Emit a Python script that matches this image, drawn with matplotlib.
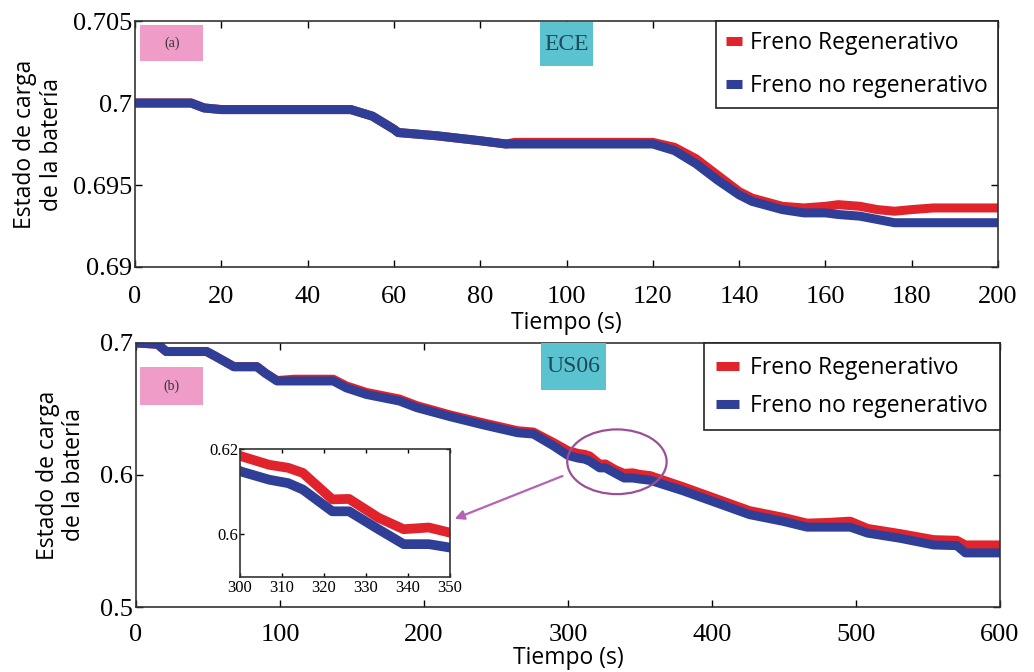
import numpy as np
import matplotlib.pyplot as plt
from matplotlib.patches import Ellipse, Rectangle

# ECE cycle (panel a)
t_ece = [0, 13, 16, 20, 50, 55, 60, 61, 70, 80, 86, 88, 100, 120, 125, 130, 135, 140,
         143, 150, 155, 160, 163, 168, 172, 176, 180, 185, 200]
soc_ece_regen = [0.7000, 0.7000, 0.6997, 0.6996, 0.6996, 0.6992, 0.6984, 0.6982, 0.6980,
                 0.6977, 0.6975, 0.6976, 0.6976, 0.6976, 0.6973, 0.6966, 0.6956, 0.6946,
                 0.6942, 0.6937, 0.6936, 0.6937, 0.6938, 0.6937, 0.6935, 0.6934, 0.6935,
                 0.6936, 0.6936]
soc_ece_noregen = [0.7000, 0.7000, 0.6997, 0.6996, 0.6996, 0.6992, 0.6984, 0.6982, 0.6980,
                   0.6977, 0.6975, 0.6975, 0.6975, 0.6975, 0.6971, 0.6963, 0.6953, 0.6944,
                   0.6940, 0.6935, 0.6933, 0.6933, 0.6932, 0.6931, 0.6929, 0.6927, 0.6927,
                   0.6927, 0.6927]

# US06 cycle (panel b)
t_us06 = [0, 15, 21, 49, 55, 68, 84, 90, 98, 110, 137, 146, 160, 183, 195, 218, 241, 265,
          276, 290, 300, 307, 311.5, 315, 322, 326, 333, 339, 345, 350, 357, 380, 403, 426,
          449, 466, 480, 496, 508, 531, 554, 570, 576, 600]
soc_us06_regen = [0.700, 0.699, 0.6935, 0.6935, 0.690, 0.682, 0.682, 0.677, 0.6715, 0.6725,
                  0.6725, 0.6675, 0.6625, 0.6575, 0.6525, 0.6455, 0.6395, 0.6335, 0.6325,
                  0.6245, 0.6184, 0.6163, 0.6156, 0.6144, 0.6082, 0.6083, 0.6039, 0.6012,
                  0.6016, 0.6004, 0.5995, 0.591, 0.582, 0.573, 0.568, 0.5635, 0.564, 0.565,
                  0.5595, 0.5555, 0.551, 0.5505, 0.547, 0.547]
soc_us06_noregen = [0.700, 0.699, 0.6935, 0.6935, 0.690, 0.682, 0.682, 0.677, 0.6712, 0.6712,
                    0.6712, 0.666, 0.661, 0.656, 0.651, 0.6442, 0.638, 0.632, 0.631, 0.622,
                    0.6148, 0.6128, 0.612, 0.6105, 0.6054, 0.6054, 0.6012, 0.5977, 0.5977,
                    0.5969, 0.5960, 0.588, 0.579, 0.570, 0.565, 0.5605, 0.5605, 0.5605,
                    0.556, 0.552, 0.547, 0.5465, 0.541, 0.541]

labels = ['Freno Regenerativo', 'Freno no regenerativo']
red = '#e1232b'
blue = '#2f3f98'
serif = 'Liberation Serif'
sans = 'Open Sans'


def style_axes(ax, tick_size=19, xpad=9):
    ax.tick_params(direction='in', top=True, right=True, length=5, width=1)
    ax.tick_params(axis='x', pad=xpad)
    ax.tick_params(axis='y', pad=2)
    for lab in ax.get_xticklabels() + ax.get_yticklabels():
        lab.set_fontfamily(serif)
        lab.set_fontsize(tick_size)
    for sp in ax.spines.values():
        sp.set_linewidth(1.2)
        sp.set_color('#333333')


def tag_box(ax, x0, y0, x1, y1, text, fc, tc, family, size):
    ax.add_patch(Rectangle((x0, y0), x1 - x0, y1 - y0, transform=ax.transAxes,
                           facecolor=fc, edgecolor='none', zorder=5))
    ax.text((x0 + x1) / 2, (y0 + y1) / 2, text, transform=ax.transAxes, ha='center',
            va='center', color=tc, family=family, fontsize=size, zorder=6)


fig = plt.figure(figsize=(10.34, 6.72), dpi=100)

# ---- panel (a)
ax1 = fig.add_axes([0.1306, 0.6027, 0.8346, 0.366])
ax1.plot(t_ece, soc_ece_regen, color=red, lw=6.5, solid_capstyle='butt', label=labels[0])
ax1.plot(t_ece, soc_ece_noregen, color=blue, lw=6.5, solid_capstyle='butt', label=labels[1])
ax1.set_xlim(0, 200)
ax1.set_ylim(0.69, 0.705)
ax1.set_xticks(np.arange(0, 201, 20))
ax1.set_yticks([0.69, 0.695, 0.7, 0.705])
ax1.set_yticklabels(['0.69', '0.695', '0.7', '0.705'])
style_axes(ax1, xpad=14)
ax1.set_xlabel('Tiempo (s)', family=sans, fontsize=16.5, labelpad=2)
ax1.set_ylabel('Estado de carga\nde la batería', family=sans, fontsize=16.5, labelpad=6.5,
               linespacing=1.15)
leg1 = ax1.legend(loc='upper right', prop={'family': sans, 'size': 16.5}, fancybox=False,
                  framealpha=1, edgecolor='#222222', handlelength=0.7, borderaxespad=0,
                  handletextpad=0.35, borderpad=0.45, labelspacing=0.8)
leg1.get_frame().set_linewidth(1.2)
tag_box(ax1, 0.006, 0.837, 0.079, 0.984, '(a)', '#ef9dc8', '#333333', serif, 10)
tag_box(ax1, 0.469, 0.817, 0.531, 0.996, 'ECE', '#5bc3cf', '#1d4a5c', serif, 17)

# ---- panel (b)
ax2 = fig.add_axes([0.1315, 0.0967, 0.8356, 0.393])
ax2.plot(t_us06, soc_us06_regen, color=red, lw=6.5, solid_capstyle='butt', label=labels[0])
ax2.plot(t_us06, soc_us06_noregen, color=blue, lw=6.5, solid_capstyle='butt', label=labels[1])
ax2.set_xlim(0, 600)
ax2.set_ylim(0.5, 0.7)
ax2.set_xticks(np.arange(0, 601, 100))
ax2.set_yticks([0.5, 0.6, 0.7])
ax2.set_yticklabels(['0.5', '0.6', '0.7'])
style_axes(ax2, xpad=12.5)
ax2.set_xlabel('Tiempo (s)', family=sans, fontsize=16.5, labelpad=0)
ax2.set_ylabel('Estado de carga\nde la batería', family=sans, fontsize=16.5, labelpad=10,
               linespacing=1.15)
leg2 = ax2.legend(loc='upper right', prop={'family': sans, 'size': 16.5}, fancybox=False,
                  framealpha=1, edgecolor='#222222', handlelength=1.0, borderaxespad=0,
                  handletextpad=0.45, borderpad=0.55, labelspacing=0.62)
leg2.get_frame().set_linewidth(1.2)
tag_box(ax2, 0.0046, 0.765, 0.0775, 0.909, '(b)', '#ef9dc8', '#333333', serif, 10)
tag_box(ax2, 0.469, 0.822, 0.544, 1.0, 'US06', '#5bc3cf', '#1d4a5c', serif, 17)

ax2.add_patch(Ellipse((334, 0.610), 69, 0.049, facecolor='none', edgecolor='#9b4f95',
                      lw=1.6, zorder=4))
ax2.annotate('', xy=(219.5, 0.566), xytext=(298, 0.600),
             arrowprops=dict(arrowstyle='-|>', color='#b563b4', lw=1.6, mutation_scale=14),
             zorder=4)

# ---- inset
axi = fig.add_axes([0.232, 0.1414, 0.203, 0.1904])
axi.plot(t_us06, soc_us06_regen, color=red, lw=7)
axi.plot(t_us06, soc_us06_noregen, color=blue, lw=7)
axi.set_xlim(300, 350)
axi.set_ylim(0.59, 0.62)
axi.set_xticks(np.arange(300, 351, 10))
axi.set_yticks([0.6, 0.62])
axi.set_yticklabels(['0.6', '0.62'])
style_axes(axi, tick_size=12, xpad=2)
axi.tick_params(length=3)
axi.tick_params(axis='y', pad=1)

fig.savefig('out.png', dpi=100)
